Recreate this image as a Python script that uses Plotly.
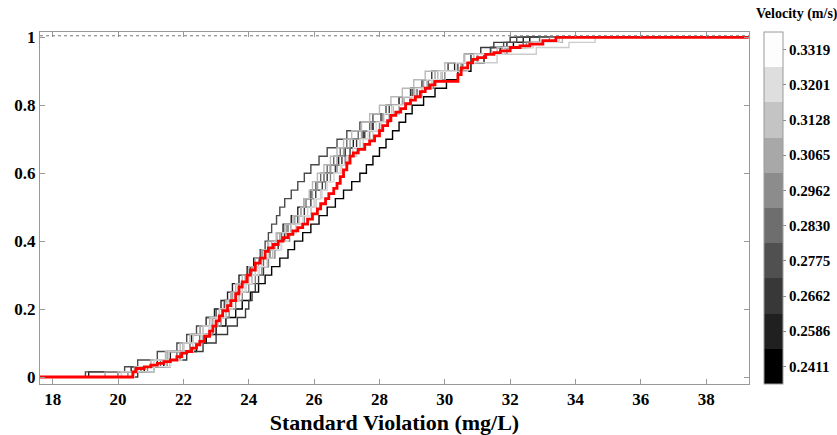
import plotly.graph_objects as go

# ---------------- data ----------------
velocity_labels = ["0.2411", "0.2586", "0.2662", "0.2775", "0.2830",
                   "0.2962", "0.3065", "0.3128", "0.3201", "0.3319"]
velocity_colors = ["#000000", "#202020", "#383838", "#505050", "#6e6e6e",
                   "#8c8c8c", "#a8a8a8", "#c4c4c4", "#dedede", "#fdfdfd"]
line_colors = ["#000000", "#202020", "#383838", "#4a4a4a", "#666666",
               "#868686", "#a0a0a0", "#b8b8b8", "#cccccc", "#dddddd"]

# cumulative probability levels at which each grey curve steps
p_levels = [0, 0.015, 0.03, 0.05, 0.075, 0.1, 0.125, 0.15, 0.175, 0.2, 0.225, 0.25, 0.275,
            0.3, 0.325, 0.35, 0.375, 0.4, 0.425, 0.45, 0.475, 0.5, 0.525, 0.55, 0.575, 0.6,
            0.625, 0.65, 0.675, 0.7, 0.725, 0.75, 0.775, 0.8, 0.825, 0.85, 0.875, 0.9, 0.925,
            0.95, 0.97, 0.985, 1.0, 1.0]

c1_x = [17.6,20.0,20.8,21.4,21.9,22.4,22.7,23.0,23.3,23.6,23.8,24.05,24.3,24.5,24.7,24.95,25.2,25.4,25.65,25.9,26.15,26.4,26.65,26.9,27.15,27.4,27.6,27.8,28.0,28.2,28.4,28.6,28.8,29.0,29.35,29.7,30.05,30.4,30.8,31.2,31.7,32.1,32.6,39.3]
c2_x = [17.6,19.1,20.4,21.2,21.6,22.0,22.25,22.5,22.7,22.95,23.15,23.35,23.5,23.7,23.95,24.15,24.4,24.6,24.85,25.05,25.3,25.5,25.7,25.9,26.1,26.3,26.5,26.75,26.95,27.2,27.5,27.8,28.1,28.4,28.75,29.1,29.45,29.8,30.3,30.8,31.4,31.9,32.4,39.3]
c3_x = [17.6,20.6,21.1,21.6,22.1,22.6,23.0,23.35,23.65,23.9,24.0,24.1,24.2,24.3,24.45,24.6,24.75,24.9,25.1,25.3,25.5,25.7,25.9,26.05,26.25,26.4,26.65,26.85,27.1,27.3,27.55,27.8,28.05,28.3,28.6,28.95,29.3,29.6,30.1,30.6,31.1,31.5,32.0,39.3]
c4_x = [17.6,19.0,20.2,20.6,21.2,21.8,22.1,22.4,22.7,23.0,23.25,23.45,23.7,23.9,24.05,24.2,24.35,24.5,24.6,24.7,24.85,24.95,25.1,25.3,25.5,25.7,25.9,26.15,26.4,26.7,27.0,27.4,27.8,28.2,28.6,29.0,29.45,29.9,30.4,30.9,31.4,31.8,32.2,39.3]
c5_x = [17.6,20.0,20.7,21.3,21.8,22.2,22.5,22.8,23.05,23.3,23.5,23.7,23.9,24.1,24.3,24.45,24.65,24.8,25.0,25.2,25.4,25.6,25.75,25.9,26.05,26.2,26.4,26.6,26.8,27.0,27.35,27.7,28.05,28.4,28.75,29.15,29.5,29.9,30.55,31.2,31.9,32.4,32.9,39.3]
c6_x = [17.6,20.3,20.9,21.5,21.9,22.3,22.6,22.9,23.15,23.4,23.6,23.8,24.0,24.2,24.4,24.6,24.8,25.0,25.25,25.45,25.7,25.9,26.05,26.2,26.35,26.5,26.7,26.95,27.2,27.4,27.7,28.0,28.3,28.6,28.95,29.3,29.65,30.0,30.5,31.0,31.8,32.5,33.2,39.3]
c7_x = [17.6,19.6,20.5,21.0,21.5,22.0,22.3,22.6,22.9,23.2,23.35,23.5,23.7,23.9,24.1,24.3,24.5,24.7,24.95,25.15,25.4,25.6,25.75,25.95,26.1,26.3,26.5,26.7,26.9,27.1,27.45,27.75,28.1,28.4,28.7,29.05,29.35,29.7,30.35,31.0,31.9,32.7,33.5,39.3]
c8_x = [17.6,20.0,20.6,21.0,21.45,21.9,22.2,22.5,22.8,23.1,23.3,23.45,23.6,23.8,24.0,24.2,24.4,24.6,24.85,25.1,25.35,25.6,25.7,25.85,25.95,26.1,26.3,26.5,26.7,26.9,27.15,27.45,27.7,28.0,28.35,28.7,29.05,29.4,30.0,30.6,31.6,32.6,33.6,39.3]
c9_x = [17.6,20.1,20.6,21.1,21.55,22.0,22.3,22.6,22.85,23.1,23.35,23.55,23.8,24.0,24.2,24.4,24.6,24.8,25.05,25.3,25.55,25.8,26.0,26.2,26.4,26.6,26.85,27.05,27.3,27.5,27.8,28.05,28.35,28.6,28.95,29.3,29.6,29.9,30.7,31.6,32.8,33.8,34.6,39.3]
c10_x = [17.6,20.5,21.1,21.6,21.95,22.3,22.55,22.8,23.05,23.3,23.5,23.7,23.9,24.1,24.3,24.55,24.75,25.0,25.2,25.45,25.65,25.9,26.05,26.25,26.4,26.6,26.8,27.0,27.2,27.4,27.65,27.9,28.15,28.4,28.75,29.1,29.45,29.8,30.35,30.9,31.8,32.7,33.5,39.3]

red_x = [17.6,20.45,20.55,20.8,21.0,21.2,21.4,21.6,21.8,21.95,22.1,22.25,22.4,22.5,22.65,22.8,22.9,23.0,23.1,23.2,23.35,23.45,23.6,23.7,23.8,23.95,24.05,24.2,24.35,24.5,24.6,24.75,24.9,25.05,25.2,25.35,25.5,25.65,25.8,25.95,26.1,26.2,26.35,26.45,26.6,26.7,26.8,26.9,27.0,27.1,27.2,27.35,27.55,27.7,27.85,28.0,28.1,28.25,28.35,28.5,28.65,28.8,28.95,29.1,29.25,29.4,29.55,29.7,30.4,30.5,30.7,30.85,31.0,31.25,31.5,31.7,32.0,32.3,32.6,33.0,33.4,39.3]
red_p = [0,0.015,0.025,0.03,0.035,0.04,0.045,0.05,0.06,0.07,0.075,0.085,0.095,0.105,0.12,0.135,0.15,0.165,0.18,0.195,0.21,0.225,0.245,0.265,0.28,0.30,0.315,0.335,0.35,0.37,0.38,0.39,0.40,0.41,0.42,0.43,0.44,0.45,0.465,0.48,0.495,0.51,0.525,0.54,0.555,0.57,0.59,0.61,0.63,0.65,0.66,0.67,0.685,0.695,0.71,0.725,0.74,0.755,0.77,0.78,0.79,0.805,0.815,0.825,0.84,0.85,0.86,0.87,0.89,0.91,0.925,0.935,0.94,0.95,0.955,0.96,0.97,0.975,0.98,0.99,1.0,1.0]

x_ticks = [18, 20, 22, 24, 26, 28, 30, 32, 34, 36, 38]
y_ticks = [0, 0.2, 0.4, 0.6, 0.8, 1]
y_tick_text = ["0", "0.2", "0.4", "0.6", "0.8", "1"]
x_title = "Standard Violation (mg/L)"
cbar_title = "Velocity (m/s)"

curves_x = [c1_x, c2_x, c3_x, c4_x, c5_x, c6_x, c7_x, c8_x, c9_x, c10_x]

# ---------------- figure ----------------
FONT = "Liberation Serif"
fig = go.Figure()

for i, cx in enumerate(curves_x):
    m = min(len(cx), len(p_levels))
    fig.add_trace(go.Scatter(x=cx[:m], y=p_levels[:m], mode="lines", line_shape="hv",
                             line=dict(color=line_colors[i], width=1.4),
                             showlegend=False, hoverinfo="skip"))

m = min(len(red_x), len(red_p))
fig.add_trace(go.Scatter(x=red_x[:m], y=red_p[:m], mode="lines", line_shape="hv",
                         line=dict(color="#ff0000", width=2.8),
                         showlegend=False))

# discrete colorscale for the colour bar
n = len(velocity_colors)
cscale = []
for i, c in enumerate(velocity_colors):
    cscale.append([i / n, c])
    cscale.append([(i + 1) / n, c])

fig.add_trace(go.Scatter(
    x=[0], y=[0.5], mode="markers", showlegend=False, hoverinfo="skip",
    marker=dict(color=[0], cmin=0, cmax=n, colorscale=cscale, showscale=True, size=1,
                colorbar=dict(
                    x=1.0205, xanchor="left", y=0.5, yanchor="middle",
                    len=1.0, lenmode="fraction", thickness=19,
                    outlinewidth=1, outlinecolor="#9a9a9a",
                    tickmode="array", tickvals=[i + 0.5 for i in range(n)],
                    ticktext=velocity_labels, ticks="outside", ticklen=3,
                    tickcolor="#888888",
                    tickfont=dict(family=FONT, size=15, color="black", weight="bold"),
                    xpad=0, ypad=0))))

fig.add_shape(type="line", xref="paper", yref="y", x0=0, x1=1, y0=1.0045, y1=1.0045,
              line=dict(color="#777777", width=1, dash="dot"))

fig.add_annotation(text=cbar_title, xref="paper", yref="paper",
                   x=1.1232, xanchor="right", xshift=4, y=1.0, yanchor="bottom", yshift=8,
                   showarrow=False,
                   font=dict(family=FONT, size=14, color="black", weight="bold"))

fig.update_layout(
    width=837, height=435,
    margin=dict(l=40, r=88, t=32, b=51, autoexpand=False),
    plot_bgcolor="white", paper_bgcolor="white",
    xaxis=dict(range=[17.61, 39.31], tickvals=x_ticks, ticks="inside", ticklen=5,
               tickcolor="#999999", showline=True, linecolor="#999999", mirror="ticks",
               showgrid=False, zeroline=False,
               tickfont=dict(family=FONT, size=17, color="black", weight="bold"),
               title=dict(text=x_title, standoff=6,
                          font=dict(family=FONT, size=22, color="black", weight="bold"))),
    yaxis=dict(range=[-0.0206, 1.0156], tickvals=y_ticks, ticktext=y_tick_text,
               ticks="inside", ticklen=5, tickcolor="#999999", showline=True,
               linecolor="#999999", mirror="ticks", showgrid=False, zeroline=False,
               tickfont=dict(family=FONT, size=17, color="black", weight="bold")),
)

fig.write_html("out.html", config={"displayModeBar": False},
               post_script="document.body.style.margin='0px';document.body.style.overflow='hidden';")
